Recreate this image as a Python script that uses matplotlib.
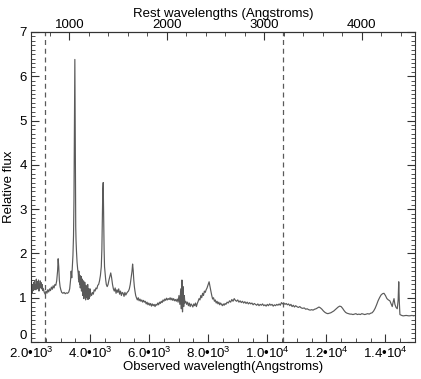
import matplotlib
matplotlib.use("Agg")
import matplotlib.pyplot as plt
from matplotlib.ticker import MultipleLocator, FixedLocator

plt.rcParams['font.family'] = ['Liberation Sans', 'DejaVu Sans']
plt.rcParams['mathtext.fontset'] = 'custom'
plt.rcParams['mathtext.rm'] = 'Liberation Sans'
plt.rcParams['mathtext.it'] = 'Liberation Sans:italic'

# Observed wavelength (Angstroms) and relative flux
wavelength = [
    2000, 2015, 2030, 2045, 2060, 2075, 2090, 2105, 2120, 2135, 2150, 2165, 2180, 2195, 2210,
    2225, 2240, 2255, 2270, 2285, 2300, 2315, 2330, 2345, 2360, 2375, 2390, 2405, 2420,
    2450, 2480, 2510, 2540, 2570, 2600, 2630, 2660, 2690, 2720, 2750, 2780, 2810, 2840, 2870,
    2900, 2920, 2940, 2960, 2985, 3010, 3040, 3080, 3120, 3160, 3200, 3240, 3280, 3310, 3340,
    3360, 3380, 3400, 3420, 3440, 3455, 3465, 3475, 3485, 3495, 3505, 3515, 3525, 3540, 3560,
    3580, 3600, 3610, 3620, 3630, 3640, 3650, 3660, 3670, 3680, 3690, 3700, 3710, 3720, 3730,
    3740, 3750, 3760, 3770, 3780, 3790, 3800, 3810, 3820, 3830, 3840, 3850, 3860, 3870,
    3880, 3890, 3900, 3910, 3920, 3930, 3940, 3950, 3960, 3970, 3980, 3990, 4000, 4020, 4050,
    4080, 4110, 4140, 4170, 4200, 4230,
    4260, 4290, 4320, 4350, 4380, 4400, 4415, 4430, 4445, 4460, 4475, 4490, 4510, 4530, 4550,
    4580, 4610, 4640, 4670, 4700, 4730, 4760, 4790, 4820, 4850, 4880, 4910, 4940, 4970, 5000,
    5030, 5060, 5090, 5120, 5150, 5180, 5210, 5240, 5270, 5300, 5330, 5360, 5390, 5420, 5440,
    5460, 5480, 5500, 5520, 5545, 5570, 5600, 5630, 5660, 5690, 5720, 5750, 5780, 5810, 5840,
    5870, 5900, 5930, 5960, 5990, 6020, 6050, 6080, 6110, 6140, 6170, 6200, 6230, 6260, 6290,
    6320, 6350, 6380, 6410, 6440, 6470, 6500, 6530, 6560, 6590, 6620, 6650, 6680, 6710, 6740,
    6770, 6800, 6830, 6860, 6890, 6920, 6950, 6980, 7010, 7040, 7070, 7090, 7110, 7130, 7150,
    7170, 7190, 7210, 7240, 7270, 7300, 7330, 7360, 7390, 7420, 7450, 7480, 7510, 7540, 7570,
    7600, 7630, 7660, 7690, 7720, 7750, 7780, 7810, 7840, 7870, 7900, 7930, 7960, 7990, 8030,
    8060, 8090, 8120, 8150, 8180, 8210, 8240, 8270, 8300, 8330, 8360, 8390, 8420, 8450, 8480,
    8510, 8540, 8570, 8600, 8640, 8680, 8720, 8760, 8800, 8840, 8880, 8920, 8960, 9000, 9040,
    9080, 9120, 9160, 9200, 9240, 9280, 9320, 9360, 9400, 9440, 9480, 9520, 9560, 9600, 9640,
    9680, 9720, 9760, 9800, 9840, 9880, 9920, 9960, 10000, 10040, 10080, 10120, 10160, 10200, 10240,
    10280, 10320, 10360, 10400, 10440, 10480, 10520, 10560, 10600, 10640, 10680, 10720, 10760, 10800, 10840,
    10880, 10920, 10960, 11000, 11050, 11100, 11150, 11200, 11250, 11300, 11350, 11400, 11450, 11500, 11550,
    11600, 11650, 11700, 11750, 11800, 11850, 11900, 11950, 12000, 12050, 12100, 12150, 12200, 12250, 12300,
    12350, 12400, 12450, 12500, 12550, 12600, 12650, 12700, 12750, 12800, 12850, 12900, 12950, 13000, 13050,
    13100, 13150, 13200, 13250, 13300, 13350, 13400, 13450, 13500, 13550, 13600, 13650, 13700, 13750, 13800,
    13850, 13900, 13950, 14000, 14050, 14100, 14150, 14200, 14230, 14260, 14290, 14320, 14360, 14400, 14430,
    14450, 14470, 14490, 14550, 14600, 14700, 14800, 14900, 14960,
]
flux = [
    1.22, 1.12, 1.28, 1.10, 1.30, 1.16, 1.34, 1.18, 1.38, 1.22, 1.30, 1.18, 1.42, 1.25, 1.20,
    1.36, 1.24, 1.40, 1.15, 1.30, 1.26, 1.38, 1.22, 1.34, 1.20, 1.30, 1.24, 1.16, 1.20,
    1.12, 1.08, 1.15, 1.10, 1.18, 1.13, 1.20, 1.16, 1.24, 1.19, 1.27, 1.22, 1.30, 1.28, 1.38,
    1.60, 1.88, 1.70, 1.40, 1.25, 1.18, 1.12, 1.10, 1.12, 1.09, 1.11, 1.10, 1.13, 1.20, 1.40,
    1.60, 1.45, 1.70, 1.95, 2.40, 3.20, 4.40, 5.60, 6.38, 5.20, 3.60, 2.60, 2.30, 2.05, 1.80,
    1.65, 1.55, 1.42, 1.60, 1.35, 1.52, 1.30, 1.50, 1.22, 1.45, 1.28, 1.48, 1.15, 1.40, 1.20,
    1.42, 1.05, 1.32, 1.12, 1.38, 0.98, 1.30, 1.05, 1.35, 1.10, 1.25, 0.95, 1.28, 1.02,
    1.25, 1.00, 1.22, 1.08, 1.30, 0.96, 1.18, 1.05, 1.20, 0.98, 1.15, 1.02, 1.20, 1.10, 1.05,
    1.12, 1.08, 1.18, 1.15, 1.22, 1.20,
    1.28, 1.30, 1.38, 1.50, 1.70, 2.10, 2.70, 3.40, 3.60, 2.90, 2.10, 1.70, 1.55, 1.40, 1.30,
    1.25, 1.30, 1.40, 1.48, 1.56, 1.45, 1.30, 1.20, 1.15, 1.22, 1.10, 1.18, 1.12, 1.20, 1.08,
    1.15, 1.05, 1.12, 1.10, 1.03, 1.12, 1.06, 1.10, 1.13, 1.15, 1.20, 1.30, 1.45, 1.60, 1.76,
    1.62, 1.40, 1.25, 1.15, 1.05, 1.00, 0.95, 1.00, 0.93, 0.97, 0.92, 0.95, 0.90, 0.94, 0.90,
    0.92, 0.86, 0.90, 0.84, 0.88, 0.83, 0.87, 0.81, 0.86, 0.82, 0.85, 0.80, 0.85, 0.83, 0.88,
    0.84, 0.90, 0.87, 0.92, 0.89, 0.95, 0.92, 0.97, 0.94, 0.99, 0.95, 0.98, 0.96, 1.00, 0.95,
    0.99, 0.94, 0.98, 0.93, 0.96, 0.92, 0.97, 0.90, 1.05, 0.85, 1.20, 0.75, 1.40, 0.68, 1.25,
    0.80, 1.05, 0.88, 0.92, 0.85, 0.90, 0.82, 0.88, 0.80, 0.86, 0.83, 0.79, 0.86, 0.82, 0.88,
    0.80, 0.87, 0.92, 0.98, 0.95, 1.05, 1.00, 1.10, 1.05, 1.15, 1.12, 1.18, 1.22, 1.28, 1.36,
    1.25, 1.15, 1.05, 0.97, 1.00, 0.92, 0.95, 0.88, 0.92, 0.86, 0.90, 0.84, 0.88, 0.85, 0.82,
    0.86, 0.83, 0.87, 0.85, 0.90, 0.88, 0.93, 0.90, 0.96, 0.92, 0.98, 0.94, 0.92, 0.95, 0.90,
    0.93, 0.89, 0.92, 0.88, 0.91, 0.87, 0.90, 0.86, 0.89, 0.86, 0.88, 0.84, 0.87, 0.85, 0.83,
    0.86, 0.82, 0.85, 0.83, 0.86, 0.82, 0.84, 0.81, 0.85, 0.82, 0.86, 0.83, 0.85, 0.81, 0.84,
    0.82, 0.85, 0.83, 0.86, 0.83, 0.89, 0.86, 0.88, 0.85, 0.87, 0.84, 0.86, 0.82, 0.85, 0.80,
    0.83, 0.79, 0.82, 0.80, 0.78, 0.80, 0.77, 0.76, 0.77, 0.74, 0.75, 0.73, 0.72, 0.73, 0.72,
    0.74, 0.75, 0.77, 0.79, 0.77, 0.74, 0.70, 0.67, 0.65, 0.64, 0.65, 0.66, 0.68, 0.70, 0.73,
    0.76, 0.79, 0.81, 0.80, 0.76, 0.71, 0.67, 0.65, 0.64, 0.63, 0.63, 0.62, 0.63, 0.64, 0.62,
    0.63, 0.62, 0.64, 0.63, 0.62, 0.63, 0.64, 0.63, 0.65, 0.66, 0.70, 0.76, 0.84, 0.93, 1.00,
    1.06, 1.09, 1.10, 1.05, 0.98, 0.95, 0.93, 0.85, 0.80, 0.90, 0.98, 0.85, 0.78, 0.75, 0.95,
    1.36, 0.90, 0.62, 0.60, 0.59, 0.60, 0.59, 0.60, 0.59,
]
marker_wavelengths = [2475, 10520]
one_plus_z = 3.3
x_major_ticks = [2000, 4000, 6000, 8000, 10000, 12000, 14000]
x_tick_labels = ['2.0\u202210$^{3}$', '4.0\u202210$^{3}$', '6.0\u202210$^{3}$', '8.0\u202210$^{3}$',
                 '1.0\u202210$^{4}$', '1.2\u202210$^{4}$', '1.4\u202210$^{4}$']
rest_ticks = [1000, 2000, 3000, 4000]

fig = plt.figure(figsize=(4.21, 3.79), dpi=100)
ax = fig.add_axes([0.0736, 0.0976, 0.9121, 0.818])

ax.plot(wavelength, flux, color='#5a5a5a', lw=0.85)
for w in marker_wavelengths:
    ax.axvline(w, color='#5a5a5a', lw=0.9, ls=(0, (4, 3)))

ax.set_xlim(2000, 15000)
ax.set_ylim(0, 7)
ax.xaxis.set_major_locator(FixedLocator(x_major_ticks))
ax.set_xticklabels(x_tick_labels)
ax.xaxis.set_minor_locator(MultipleLocator(500))
ax.yaxis.set_major_locator(FixedLocator([0, 1, 2, 3, 4, 5, 6, 7]))
ax.yaxis.set_minor_locator(MultipleLocator(0.1))
ax.tick_params(which='both', direction='in', top=False, right=True, labelsize=9.5, color='#333333')
ax.tick_params(which='major', length=6, width=0.8)
ax.tick_params(axis='x', which='major', pad=3)
ax.tick_params(axis='y', which='major', pad=3)
ax.tick_params(which='minor', length=3, width=0.6)
ax.set_xlabel('Observed wavelength(Angstroms)', fontsize=9.5, labelpad=0)
ax.set_ylabel('Relative flux', fontsize=9.5, labelpad=3)
for s in ax.spines.values():
    s.set_linewidth(0.8)
    s.set_color('#333333')

sec = ax.secondary_xaxis('top', functions=(lambda x: x / one_plus_z, lambda r: r * one_plus_z))
sec.xaxis.set_major_locator(FixedLocator(rest_ticks))
sec.xaxis.set_minor_locator(MultipleLocator(200))
sec.tick_params(which='both', direction='in', labelsize=9.5, color='#333333')
sec.tick_params(which='major', length=6, width=0.8, pad=1)
sec.tick_params(which='minor', length=3, width=0.6)
sec.set_xlabel('Rest wavelengths (Angstroms)', fontsize=9.5, labelpad=1.5)

fig.canvas.draw()
ax.yaxis.get_major_ticks()[0].label1.set_verticalalignment('bottom')

fig.savefig('out.png', dpi=100)
